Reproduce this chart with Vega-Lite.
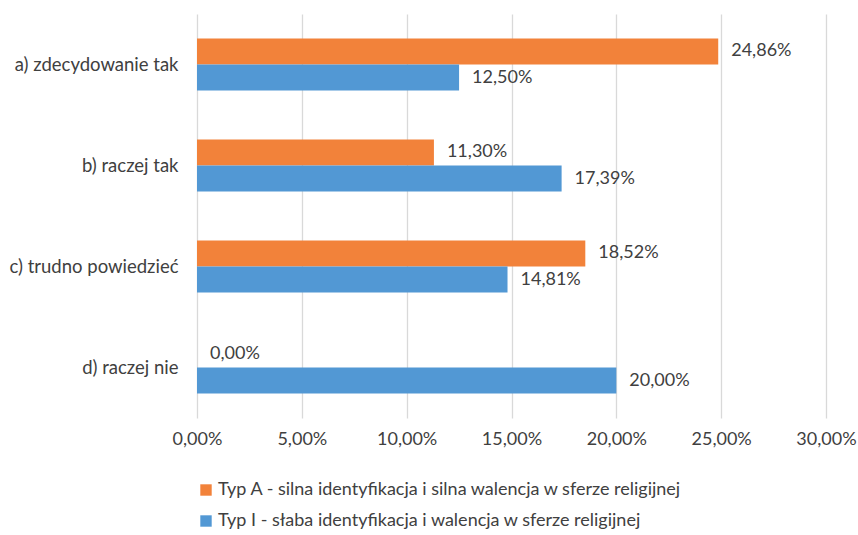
{
  "$schema": "https://vega.github.io/schema/vega-lite/v6.json",
  "autosize": "none",
  "width": 629,
  "height": 404,
  "padding": {"left": 197, "top": 14, "right": 32, "bottom": 117},
  "background": "white",
  "config": {
    "locale": {"number": {"decimal": ",", "thousands": " ", "grouping": [3], "currency": ["", " zł"]}},
    "font": "Lato",
    "view": {"stroke": null}
  },
  "data": {"values": [
    {"cat": "a) zdecydowanie tak", "typ": "Typ A - silna identyfikacja i silna walencja w sferze religijnej", "v": 0.2486},
    {"cat": "a) zdecydowanie tak", "typ": "Typ I - słaba identyfikacja i walencja w sferze religijnej", "v": 0.1250},
    {"cat": "b) raczej tak", "typ": "Typ A - silna identyfikacja i silna walencja w sferze religijnej", "v": 0.1130},
    {"cat": "b) raczej tak", "typ": "Typ I - słaba identyfikacja i walencja w sferze religijnej", "v": 0.1739},
    {"cat": "c) trudno powiedzieć", "typ": "Typ A - silna identyfikacja i silna walencja w sferze religijnej", "v": 0.1852},
    {"cat": "c) trudno powiedzieć", "typ": "Typ I - słaba identyfikacja i walencja w sferze religijnej", "v": 0.1481},
    {"cat": "d) raczej nie", "typ": "Typ A - silna identyfikacja i silna walencja w sferze religijnej", "v": 0.0},
    {"cat": "d) raczej nie", "typ": "Typ I - słaba identyfikacja i walencja w sferze religijnej", "v": 0.2000}
  ]},
  "encoding": {
    "y": {
      "field": "cat", "type": "nominal", "title": null,
      "sort": ["a) zdecydowanie tak", "b) raczej tak", "c) trudno powiedzieć", "d) raczej nie"],
      "scale": {"paddingInner": 0.484, "paddingOuter": 0.242},
      "axis": {"domain": false, "ticks": false, "labelFontSize": 18.5, "labelColor": "#404040", "labelPadding": 19, "labelFont": "Lato"}
    },
    "yOffset": {
      "field": "typ", "type": "nominal",
      "sort": ["Typ A - silna identyfikacja i silna walencja w sferze religijnej", "Typ I - słaba identyfikacja i walencja w sferze religijnej"],
      "scale": {"paddingInner": 0, "paddingOuter": 0}
    },
    "x": {
      "field": "v", "type": "quantitative", "title": null,
      "scale": {"domain": [0, 0.3], "nice": false},
      "axis": {"format": ".2%", "values": [0, 0.05, 0.1, 0.15, 0.2, 0.25, 0.3], "domain": false, "ticks": false, "grid": true, "gridColor": "#d9d9d9", "gridWidth": 1.3, "labelFlush": false, "labelFontSize": 18, "labelColor": "#404040", "labelPadding": 12, "labelFont": "Lato"}
    }
  },
  "layer": [
    {
      "mark": {"type": "bar"},
      "encoding": {
        "color": {
          "field": "typ", "type": "nominal",
          "scale": {"domain": ["Typ A - silna identyfikacja i silna walencja w sferze religijnej", "Typ I - słaba identyfikacja i walencja w sferze religijnej"], "range": ["#F2823A", "#5298D4"]},
          "legend": {
            "orient": "none", "legendX": 0, "legendY": 467, "direction": "vertical", "title": null,
            "symbolType": "square", "symbolSize": 130, "symbolStrokeWidth": 0,
            "labelFontSize": 18, "labelColor": "#404040", "labelFont": "Lato", "rowPadding": 13, "labelOffset": 3, "labelLimit": 700
          }
        }
      }
    },
    {
      "mark": {"type": "text", "align": "left", "baseline": "middle", "dx": 13, "fontSize": 18, "color": "#404040", "font": "Lato"},
      "encoding": {
        "text": {"field": "v", "type": "quantitative", "format": ".2%"}
      }
    }
  ]
}
